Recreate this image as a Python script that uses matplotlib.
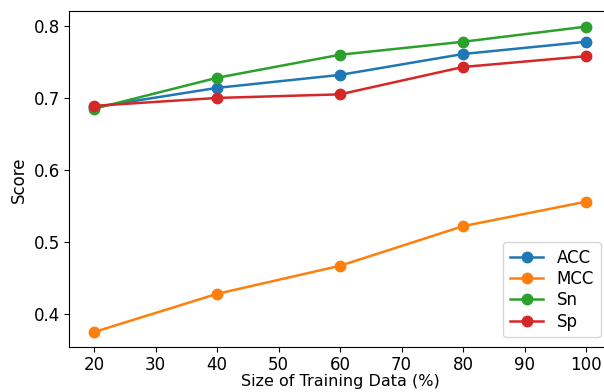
import matplotlib
matplotlib.use('Agg')
import matplotlib.pyplot as plt

sizes = [20, 40, 60, 80, 100]
acc = [0.687, 0.714, 0.732, 0.761, 0.778]
mcc = [0.375, 0.428, 0.467, 0.522, 0.556]
sn = [0.685, 0.728, 0.760, 0.778, 0.799]
sp = [0.689, 0.700, 0.705, 0.743, 0.758]

plt.rcParams['font.size'] = 12
plt.rcParams['lines.linewidth'] = 1.8
plt.rcParams['lines.markersize'] = 7.5

fig = plt.figure(figsize=(6.04, 3.92), dpi=100)
# axes run slightly past the right edge, as in the cropped original
ax = fig.add_axes([0.115, 0.114, 0.896, 0.857])

ax.plot(sizes, acc, marker='o', label='ACC')
ax.plot(sizes, mcc, marker='o', label='MCC')
ax.plot(sizes, sn, marker='o', label='Sn')
ax.plot(sizes, sp, marker='o', label='Sp')

ax.tick_params(axis='x', pad=3)
ax.set_xlabel('Size of Training Data (%)', labelpad=0, fontsize=11.5)
ax.set_ylabel('Score')
ax.legend(loc='lower right', fontsize=12, labelspacing=0.2, borderaxespad=0.6)

fig.savefig('out.png', dpi=100)
